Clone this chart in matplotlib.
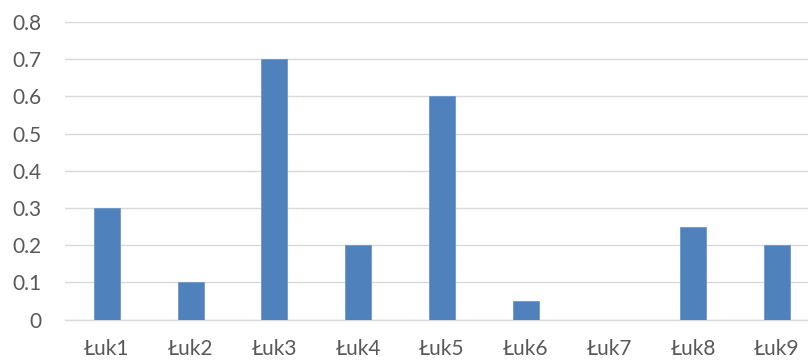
import matplotlib
matplotlib.use("Agg")
import matplotlib.pyplot as plt

categories = ["Łuk1", "Łuk2", "Łuk3", "Łuk4", "Łuk5", "Łuk6", "Łuk7", "Łuk8", "Łuk9"]
values = [0.3, 0.1, 0.7, 0.2, 0.6, 0.05, 0.0, 0.25, 0.2]
yticks = [0, 0.1, 0.2, 0.3, 0.4, 0.5, 0.6, 0.7, 0.8]
ytick_labels = ["0", "0.1", "0.2", "0.3", "0.4", "0.5", "0.6", "0.7", "0.8"]

plt.rcParams['font.family'] = ['Lato', 'DejaVu Sans']

fig = plt.figure(figsize=(8.08, 3.6), dpi=100)
W, H = 808, 360
ax = fig.add_axes([65 / W, 40.5 / H, 753.75 / W, 297.5 / H])

x = list(range(len(categories)))
ax.bar(x, values, width=0.31, color="#4F81BD", edgecolor="#6F97CB", linewidth=0.6, zorder=3)

ax.set_xlim(-0.5, len(categories) - 0.5)
ax.set_ylim(0, 0.8)
ax.set_yticks(yticks)
ax.set_yticklabels(ytick_labels)
ax.set_xticks(x)
ax.set_xticklabels(categories)

ax.yaxis.grid(True, color="#D9D9D9", linewidth=1.0, zorder=0)
ax.set_axisbelow(True)
for s in ["top", "right", "left"]:
    ax.spines[s].set_visible(False)
ax.spines["bottom"].set_color("#D9D9D9")
ax.spines["bottom"].set_linewidth(1.0)

ax.tick_params(axis="both", length=0, labelsize=15, colors="#595959")
ax.tick_params(axis="y", pad=17)
ax.tick_params(axis="x", pad=14)

fig.savefig("out.png", dpi=100)
